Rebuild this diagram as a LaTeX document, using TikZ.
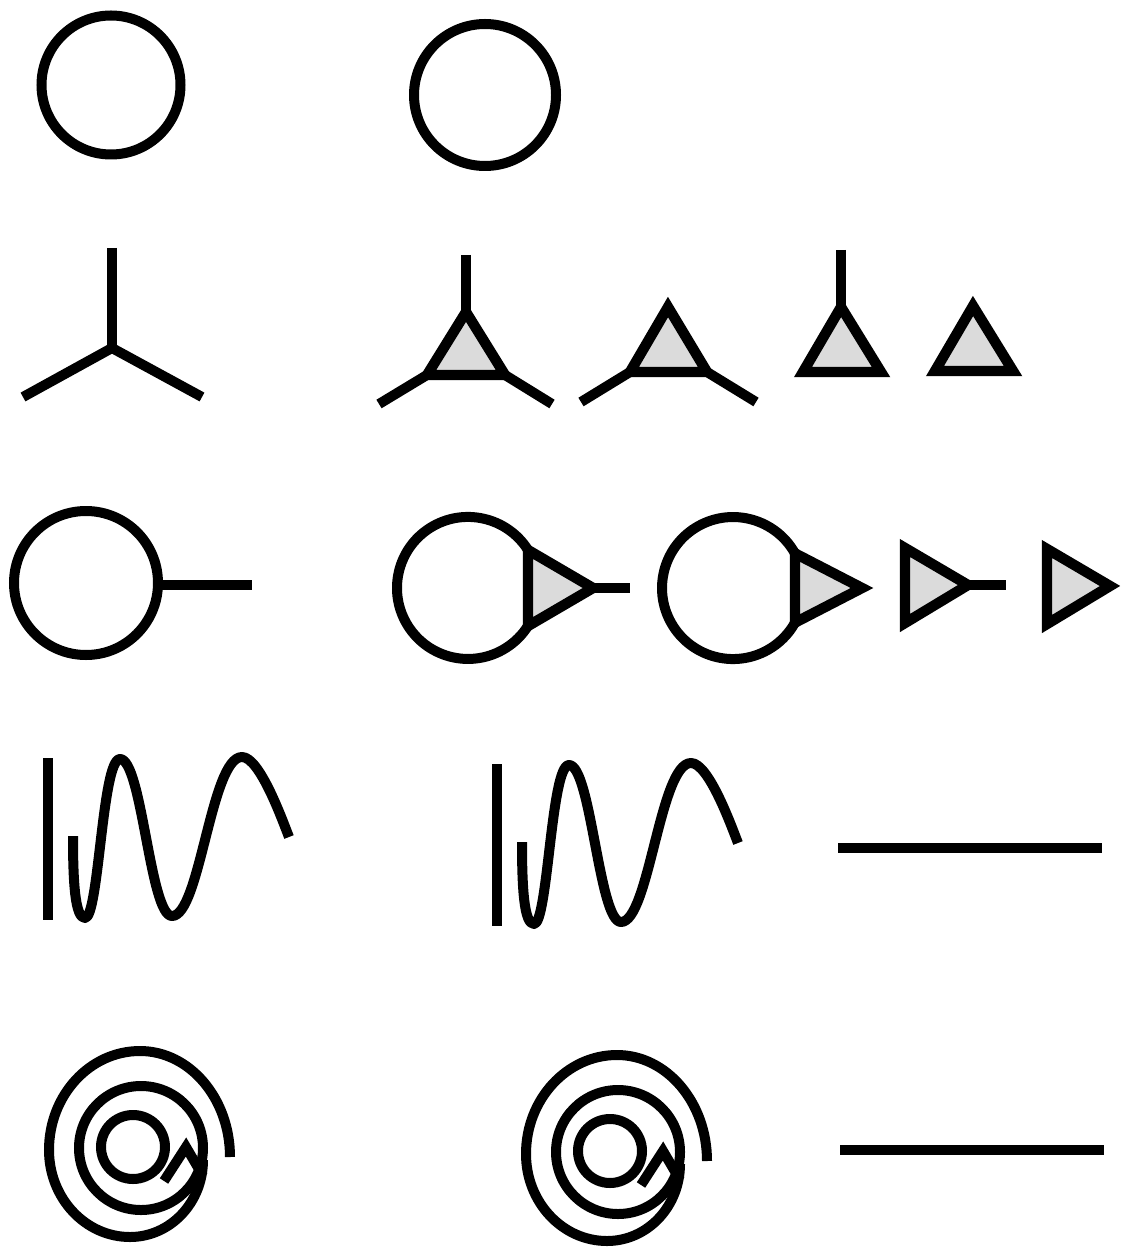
\documentclass[tikz,border=0pt]{standalone}
\begin{document}
\begin{tikzpicture}[x=0.5pt,y=-0.5pt,
  ink/.style={line width=5pt, draw=black},
  tri/.style={line width=5.2pt, line join=miter, fill=black!14, draw=black},
  bar/.style={line width=5pt, draw=black},
  wave/.pic={
    \draw[ink] (48,758) -- (48,920);
    \draw[ink, line join=round] (73,836) .. controls (73,882) and (75,918) .. (85,918)
      .. controls (99,918) and (102,759) .. (120,759)
      .. controls (142,759) and (150,916) .. (172,916)
      .. controls (200,916) and (211,757) .. (242,757)
      .. controls (260,757) and (283,822) .. (289,837);
  },
  spiral/.pic={
    \draw[ink] (133,1147) circle[radius=32];
    \draw[ink] (141,1148) circle[radius=62];
    \draw[ink] (230,1157) arc[start angle=0, end angle=-90, x radius=90, y radius=106]
      arc[start angle=-90, end angle=-180, x radius=91, y radius=99]
      arc[start angle=-180, end angle=-270, x radius=81, y radius=87]
      arc[start angle=-270, end angle=-360, x radius=73, y radius=77];
    \draw[ink, line join=miter] (164,1181) -- (186,1147) -- (203,1176);
  }]
\useasboundingbox (0,0) rectangle (1122,1251);
\fill[white] (0,0) rectangle (1122,1251);

% row 1
\draw[ink] (111,85) circle[radius=69.5];
\draw[ink] (485,95) circle[radius=71];

% row 2
\draw[ink] (112,248) -- (112,348);
\draw[ink] (23,397) -- (112,348) -- (202,397);

\draw[ink] (466,255) -- (466,310);
\draw[tri] (466,312) -- (427,375) -- (505,375) -- cycle;
\draw[ink] (427,375) -- (379,404);
\draw[ink] (505,375) -- (552,404);

\draw[tri] (668,307) -- (630,372) -- (707,372) -- cycle;
\draw[ink] (630,372) -- (581,402);
\draw[ink] (707,372) -- (756,402);

\draw[ink] (841,250) -- (841,305);
\draw[tri] (841,307) -- (803,372) -- (881,372) -- cycle;

\draw[tri] (973,306) -- (935,371) -- (1013,371) -- cycle;

% row 3
\draw[ink] (86,583) circle[radius=72];
\draw[ink] (158,585) -- (252,585);

\draw[tri] (528,550) -- (593,588) -- (528,626) -- cycle;
\draw[ink] (528,550) arc[start angle=-32.3, end angle=-327.7, radius=71];
\draw[ink] (593,588) -- (630,588);

\draw[tri] (795,553.4) -- (862,588) -- (795,622.6) -- cycle;
\draw[ink] (795,553.4) arc[start angle=-29.2, end angle=-330.8, radius=71];

\draw[tri] (905,548) -- (968,585) -- (905,623) -- cycle;
\draw[ink] (968,585) -- (1006,585);

\draw[tri] (1047,549) -- (1110,586) -- (1047,624) -- cycle;

% row 4
\pic at (0,0) {wave};
\pic at (449,6) {wave};
\draw[bar] (838,848) -- (1102,848);

% row 5
\pic at (0,0) {spiral};
\pic at (477,4) {spiral};
\draw[bar] (840,1150) -- (1104,1150);
\end{tikzpicture}
\end{document}
